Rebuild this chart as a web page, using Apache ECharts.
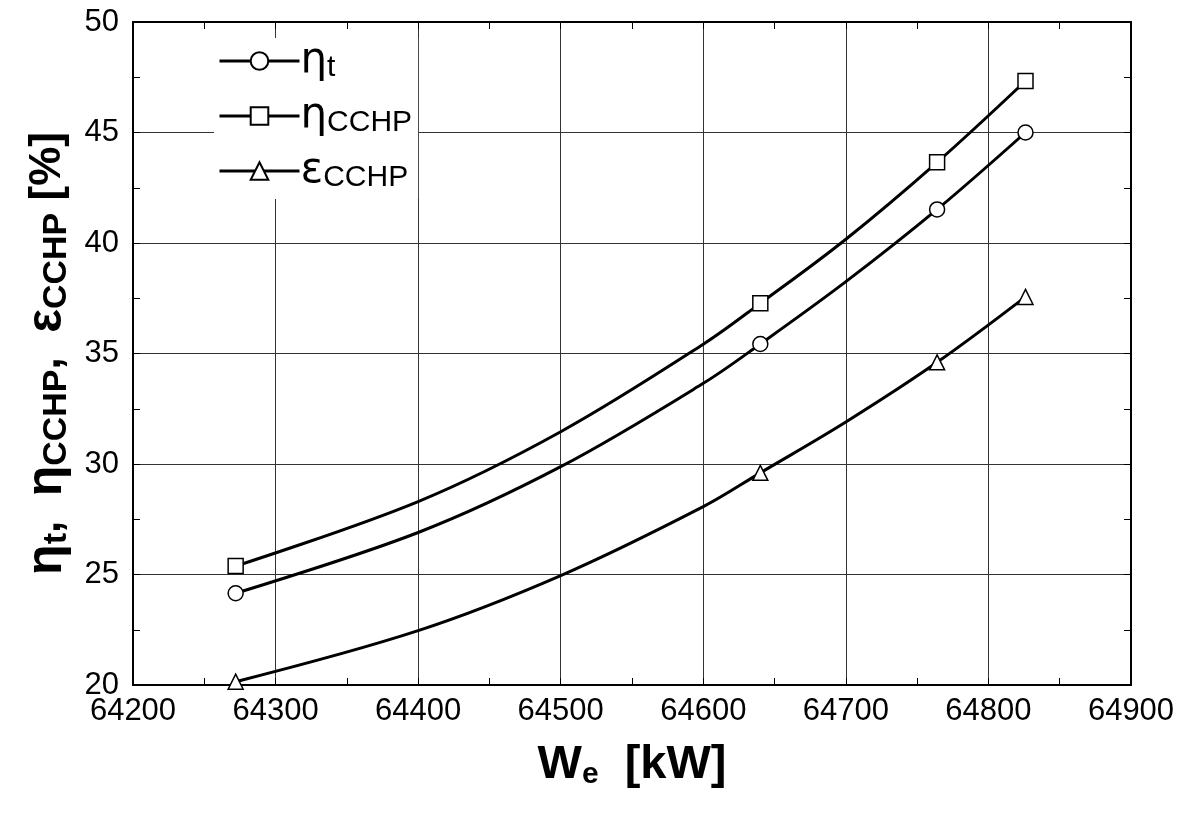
<!DOCTYPE html>
<html>
<head>
<meta charset="utf-8">
<script src="https://cdn.jsdelivr.net/npm/echarts@6/dist/echarts.min.js"></script>
<style>
html,body{margin:0;padding:0;background:#fff;}
#chart{width:1180px;height:813px;}
</style>
</head>
<body>
<div id="chart"></div>
<script>
// Electric power W_e [kW] (curve samples)
const We = [64272, 64400, 64500, 64600, 64640, 64700, 64764, 64826];
// indices of samples that carry a marker
const markedIdx = [0, 4, 6, 7];
const etaT    = [24.15, 26.9, 29.88, 33.65, 35.43, 38.25, 41.52, 45.0];
const etaCCHP = [25.38, 28.3, 31.46, 35.42, 37.27, 40.17, 43.65, 47.33];
const epsCCHP = [20.15, 22.46, 24.95, 28.07, 29.6, 31.9, 34.6, 37.56];
const xTicks = [64200, 64300, 64400, 64500, 64600, 64700, 64800, 64900];
const yTicks = [20, 25, 30, 35, 40, 45, 50];

const seriesDefs = [
  {name: 'eta_t', values: etaT, symbol: 'circle', label: '{g|η}{s|t}'},
  {name: 'eta_CCHP', values: etaCCHP, symbol: 'rect', label: '{g|η}{s|CCHP}'},
  {name: 'eps_CCHP', values: epsCCHP, symbol: 'triangle', label: '{g|ε}{s|CCHP}'}
];

const chart = echarts.init(document.getElementById('chart'), null, {renderer: 'canvas'});
const FONT = 'Liberation Sans, Arial, sans-serif';

function mkX(pos, showLabel) {
  return {
    type: 'value', position: pos,
    min: xTicks[0], max: xTicks[xTicks.length - 1], interval: xTicks[1] - xTicks[0],
    axisLine: {show: true, onZero: false, lineStyle: {color: '#000', width: 2}},
    axisTick: {show: true, inside: true, length: 7, lineStyle: {color: '#000', width: 1}},
    minorTick: {show: true, splitNumber: 2, length: 7, lineStyle: {color: '#000', width: 1}},
    splitLine: {show: showLabel, lineStyle: {color: '#333', width: 1}},
    axisLabel: {show: showLabel, color: '#000', fontFamily: FONT, fontSize: 31, margin: 11,
                formatter: v => String(v)},
    name: showLabel ? '{b|W}{bs|e}{b|  [kW]}' : '',
    nameLocation: 'middle', nameGap: 55,
    nameTextStyle: {
      rich: {
        b: {fontFamily: FONT, fontWeight: 'bold', fontSize: 47, color: '#000', lineHeight: 50},
        bs: {fontFamily: FONT, fontWeight: 'bold', fontSize: 30, color: '#000', lineHeight: 30, verticalAlign: 'bottom'}
      }
    }
  };
}
function mkY(pos, showLabel) {
  return {
    type: 'value', position: pos,
    min: yTicks[0], max: yTicks[yTicks.length - 1], interval: yTicks[1] - yTicks[0],
    axisLine: {show: true, onZero: false, lineStyle: {color: '#000', width: 2}},
    axisTick: {show: true, inside: true, length: 7, lineStyle: {color: '#000', width: 1}},
    minorTick: {show: true, splitNumber: 2, length: 7, lineStyle: {color: '#000', width: 1}},
    splitLine: {show: showLabel, lineStyle: {color: '#333', width: 1}},
    axisLabel: {show: showLabel, color: '#000', fontFamily: FONT, fontSize: 31, margin: 14},
    name: showLabel ? '{g|η}{s|t}{b|,  }{g|η}{s|CCHP}{b|,  }{g|ε}{s|CCHP}{b| [%]}' : '',
    nameLocation: 'middle', nameGap: 50, nameRotate: 90,
    nameTextStyle: {
      rich: {
        g: {fontFamily: FONT, fontWeight: 'bold', fontSize: 50, color: '#000', lineHeight: 52},
        b: {fontFamily: FONT, fontWeight: 'bold', fontSize: 44, color: '#000', lineHeight: 52},
        s: {fontFamily: FONT, fontWeight: 'bold', fontSize: 34, color: '#000', lineHeight: 34, verticalAlign: 'bottom'}
      }
    }
  };
}

const labelMap = {};
seriesDefs.forEach(d => { labelMap[d.name] = d.label; });

const option = {
  backgroundColor: '#fff',
  animation: false,
  grid: {left: 133, right: 49, top: 22, bottom: 128, containLabel: false},
  xAxis: [mkX('bottom', true), mkX('top', false)],
  yAxis: [mkY('left', true), mkY('right', false)],
  legend: {
    orient: 'vertical', left: 214, top: 38,
    backgroundColor: '#fff', padding: [2, 6, 6, 4],
    itemWidth: 80, itemHeight: 22, itemGap: 12,
    lineStyle: {width: 3},
    data: seriesDefs.map(d => d.name),
    formatter: n => labelMap[n],
    textStyle: {
      color: '#000', padding: [0, 0, 0, -4],
      rich: {
        g: {fontFamily: 'DejaVu Sans, sans-serif', fontSize: 42, color: '#000', lineHeight: 44},
        s: {fontFamily: FONT, fontSize: 30, color: '#000', lineHeight: 30, verticalAlign: 'bottom'}
      }
    }
  },
  series: seriesDefs.map(d => ({
    name: d.name, type: 'line', smooth: 0.35,
    xAxisIndex: 0, yAxisIndex: 0,
    symbol: d.symbol, symbolSize: 15,
    showAllSymbol: true,
    lineStyle: {color: '#000', width: 3},
    itemStyle: {color: '#fff', borderColor: '#000', borderWidth: 1.5},
    data: We.map((x, i) => markedIdx.indexOf(i) >= 0
      ? {value: [x, d.values[i]]}
      : {value: [x, d.values[i]], symbol: 'none'}),
    z: 3
  }))
};
chart.setOption(option);
</script>
</body>
</html>
